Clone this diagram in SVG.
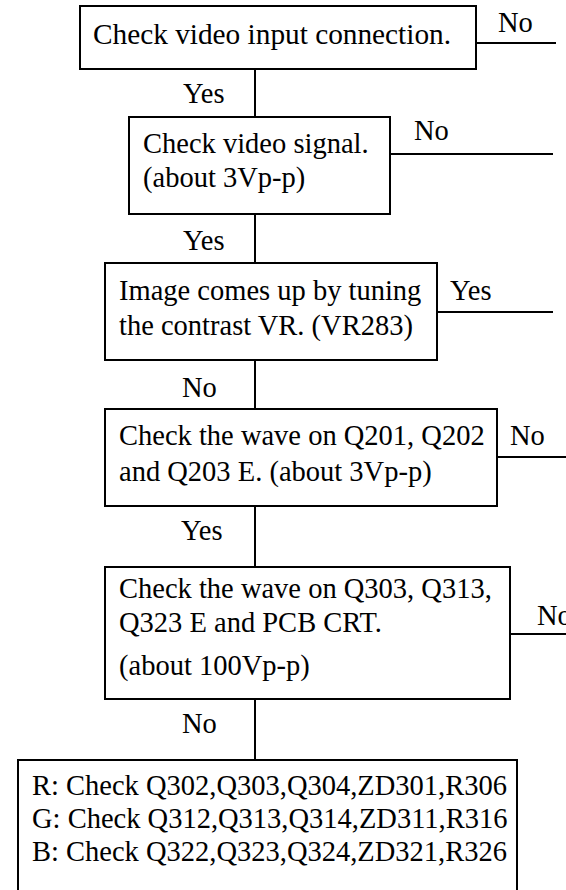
<svg xmlns="http://www.w3.org/2000/svg" width="566" height="890" viewBox="0 0 566 890">
<style>
rect.box{fill:#fff;stroke:#000;stroke-width:2}
line{stroke:#000;stroke-width:2}
text{font-family:"Liberation Serif","Times New Roman",serif;font-size:28.5px;fill:#000}
</style>
<rect width="566" height="890" fill="#fff"/>
<g id="connectors">
<line x1="476" y1="43" x2="556" y2="43"/>
<text x="498" y="32">No</text>
<line x1="255" y1="69" x2="255" y2="117"/>
<text x="183" y="103">Yes</text>
<line x1="390" y1="154" x2="553" y2="154"/>
<text x="414" y="140">No</text>
<line x1="255" y1="214" x2="255" y2="263"/>
<text x="183" y="250">Yes</text>
<line x1="437" y1="312" x2="553" y2="312"/>
<text x="450" y="300">Yes</text>
<line x1="255" y1="360" x2="255" y2="409"/>
<text x="182" y="397">No</text>
<line x1="497" y1="457" x2="566" y2="457"/>
<text x="510" y="445">No</text>
<line x1="255" y1="506" x2="255" y2="567"/>
<text x="181" y="540">Yes</text>
<line x1="510" y1="634" x2="566" y2="634"/>
<text x="537" y="625">No</text>
<line x1="255" y1="699" x2="255" y2="760"/>
<text x="182" y="733">No</text>
</g>
<g id="box1">
<rect class="box" x="80" y="6" width="396" height="63"/>
<text x="93" y="44" textLength="358" lengthAdjust="spacingAndGlyphs">Check video input connection.</text>
</g>
<g id="box2">
<rect class="box" x="129" y="117" width="261" height="97"/>
<text x="143" y="153">Check video signal.</text>
<text x="143" y="187">(about 3Vp-p)</text>
</g>
<g id="box3">
<rect class="box" x="105" y="263" width="332" height="97"/>
<text x="119" y="300">Image comes up by tuning</text>
<text x="119" y="335">the contrast VR. (VR283)</text>
</g>
<g id="box4">
<rect class="box" x="105" y="409" width="392" height="97"/>
<text x="119" y="445">Check the wave on Q201, Q202</text>
<text x="119" y="481">and Q203 E. (about 3Vp-p)</text>
</g>
<g id="box5">
<rect class="box" x="105" y="567" width="405" height="132"/>
<text x="119" y="598">Check the wave on Q303, Q313,</text>
<text x="119" y="632">Q323 E and PCB CRT.</text>
<text x="119" y="675">(about 100Vp-p)</text>
</g>
<g id="box6">
<rect class="box" x="18" y="760" width="499" height="140"/>
<text x="32" y="795">R: Check Q302,Q303,Q304,ZD301,R306</text>
<text x="32" y="828">G: Check Q312,Q313,Q314,ZD311,R316</text>
<text x="32" y="861">B: Check Q322,Q323,Q324,ZD321,R326</text>
</g>
</svg>
